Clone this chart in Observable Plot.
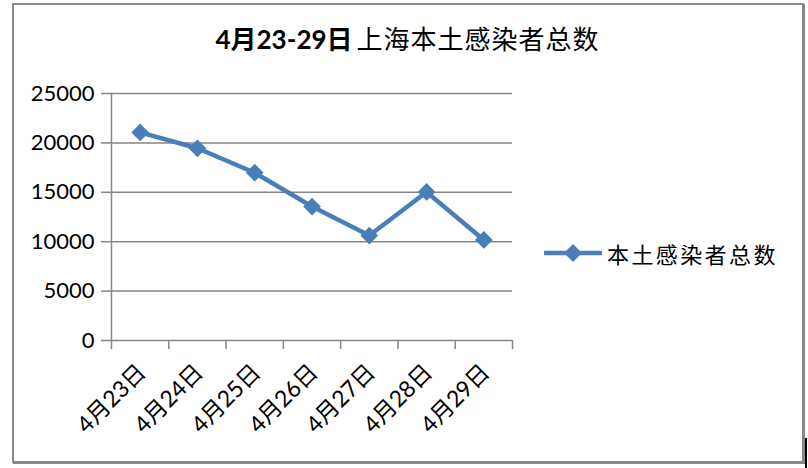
<!DOCTYPE html>
<html>
<head>
<meta charset="utf-8">
<script src="https://cdn.jsdelivr.net/npm/d3@7"></script>
<script src="https://cdn.jsdelivr.net/npm/@observablehq/plot@0.6"></script>
<style>
  html, body { margin: 0; padding: 0; background: #fff; }
  #wrap { position: relative; width: 808px; height: 468px; overflow: hidden; background: #fff; }
  #chart { position: absolute; left: 0; top: 0; }
  #frame { position: absolute; left: 12px; top: 3px; width: 788px; height: 456px;
           border: 2px solid #878787; box-shadow: 1px 1px 0 #878787; pointer-events: none; }
  #title { position: absolute; left: 0; width: 815px; top: 20px; height: 36px; line-height: 36px;
           text-align: center; font-size: 26px; color: #000;
           font-family: "Noto Sans CJK SC", sans-serif; white-space: nowrap; }
  #title .a { font-family: Lato, "Noto Sans CJK SC", sans-serif; font-weight: bold; }
  #title .b { font-weight: normal; letter-spacing: 1px; margin-left: 4px; }
  #legend { position: absolute; left: 544px; top: 238px; height: 30px; display: flex; align-items: center; }
  #legend span { font-family: "Noto Sans CJK SC", sans-serif; font-size: 22px; color: #000; margin-left: 5px; letter-spacing: 2.4px; }
  #mark { position: absolute; left: 805px; top: 438px; width: 2px; height: 30px; background: #000; }
</style>
</head>
<body>
<div id="wrap">
  <div id="chart"></div>
  <div id="title"></div>
  <div id="legend"></div>
  <div id="frame"></div>
  <div id="mark"></div>
</div>
<script>
// ---- data ----
const titleBold = "4月23-29日";
const titleRest = "上海本土感染者总数";
const seriesName = "本土感染者总数";
const dates = ["4月23日", "4月24日", "4月25日", "4月26日", "4月27日", "4月28日", "4月29日"];
const totals = [21058, 19455, 16980, 13562, 10622, 15032, 10181];
const yTicks = [0, 5000, 10000, 15000, 20000, 25000];

// ---- build ----
const lineColor = "#4a7ebb";
const axisColor = "#868686";
const data = dates.map((d, i) => ({date: d, pos: i + 0.5, total: totals[i]}));
const boundaries = d3.range(dates.length + 1);
const centers = dates.map((d, i) => i + 0.5);

const plot = Plot.plot({
  width: 530,
  height: 468,
  marginLeft: 111,
  marginRight: 18,
  marginTop: 93,
  marginBottom: 128,
  style: {fontFamily: "Lato, 'Noto Sans CJK SC', sans-serif", fontSize: "22px", color: "#000", background: "none", overflow: "visible"},
  x: {domain: [0, dates.length], axis: null},
  y: {domain: [0, 25000], axis: null},
  marks: [
    Plot.gridY(yTicks, {stroke: axisColor, strokeOpacity: 1, strokeWidth: 1.5}),
    Plot.ruleX([0], {stroke: axisColor, strokeWidth: 1.5}),
    Plot.axisY(yTicks, {tickSize: 10, tickPadding: 7, stroke: axisColor, strokeOpacity: 1, strokeWidth: 1.5,
      fill: "#000", tickFormat: d => String(d), label: null}),
    Plot.axisX(boundaries, {tickSize: 9, stroke: axisColor, strokeOpacity: 1, strokeWidth: 1.5,
      tickFormat: () => "", label: null}),
    Plot.axisX(centers, {tickSize: 0, tickPadding: 28, tickRotate: -45, dx: 2, fill: "#000",
      fontSize: 23, tickFormat: d => dates[Math.floor(d)], label: null}),
    Plot.lineY(data, {x: "pos", y: "total", stroke: lineColor, strokeWidth: 4.5}),
    Plot.dot(data, {x: "pos", y: "total", symbol: "diamond2", r: 8, fill: lineColor, stroke: "none"})
  ]
});
document.getElementById("chart").appendChild(plot);

document.getElementById("title").innerHTML =
  `<span class="a">${titleBold}</span><span class="b">${titleRest}</span>`;

const ns = "http://www.w3.org/2000/svg";
const lg = document.createElementNS(ns, "svg");
lg.setAttribute("width", 58); lg.setAttribute("height", 26);
lg.innerHTML = `<line x1="1" x2="57" y1="13" y2="13" stroke="${lineColor}" stroke-width="4.5" stroke-linecap="round"/>
  <path d="M29,4 L38,13 L29,22 L20,13 Z" fill="${lineColor}"/>`;
const legend = document.getElementById("legend");
legend.appendChild(lg);
const sp = document.createElement("span");
sp.textContent = seriesName;
legend.appendChild(sp);
</script>
</body>
</html>
